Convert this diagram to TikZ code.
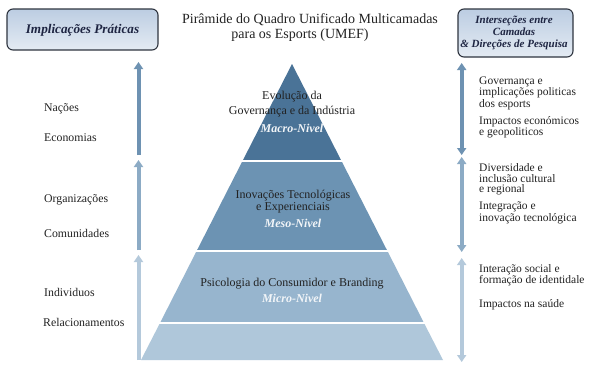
\documentclass[tikz,border=0pt]{standalone}
\usepackage{fontspec}
\setmainfont{Liberation Serif}
\usetikzlibrary{arrows.meta}
\definecolor{lvA}{HTML}{4A7397}
\definecolor{lvB}{HTML}{6C93B3}
\definecolor{lvC}{HTML}{97B5CE}
\definecolor{lvD}{HTML}{AFC7DA}
\definecolor{arA}{HTML}{6E92B2}
\definecolor{arB}{HTML}{8CABC5}
\definecolor{arC}{HTML}{B4C9DB}
\definecolor{hdtop}{HTML}{BCCDE2}
\definecolor{hdbot}{HTML}{E4EBF3}
\definecolor{hdline}{HTML}{2F3540}
\definecolor{hdtext}{HTML}{1E2542}
\definecolor{bodytext}{HTML}{222222}
\definecolor{lvtext}{HTML}{F2F5F8}
\tikzset{
  hdbox/.style={draw=hdline, line width=1.1pt, rounded corners=6pt, top color=hdtop, bottom color=hdbot},
  lbl/.style={anchor=base west, inner sep=0pt, text=bodytext, font=\fontsize{11.8}{13}\selectfont},
  rlbl/.style={anchor=base west, inner sep=0pt, text=bodytext, font=\fontsize{11.5}{12}\selectfont},
  pyrtxt/.style={anchor=base, inner sep=0pt, text=bodytext, font=\fontsize{12}{14}\selectfont},
  lvname/.style={anchor=base, inner sep=0pt, text=lvtext, font=\fontsize{12}{14}\selectfont\bfseries\itshape},
  uparrow/.style={line width=4pt, -{Triangle[width=9pt,length=7pt]}},
  bidarrow/.style={line width=4pt, {Triangle[width=9pt,length=7pt]}-{Triangle[width=9pt,length=7pt]}},
  sep/.style={draw=white, line width=2pt}
}
\begin{document}
\begin{tikzpicture}[x=1pt,y=-1pt]
\useasboundingbox (0,0) rectangle (589,375);
\fill[white] (0,0) rectangle (589,375);

% headers
\draw[hdbox] (7,9) rectangle (158,50);
\node[text=hdtext, font=\fontsize{13.2}{15}\selectfont\bfseries\itshape] (hl) at (82.5,30) {Implicações Práticas};
\draw[hdbox] (458,9) rectangle (573,57);
\node[text=hdtext, align=center, font=\fontsize{11}{12.2}\selectfont\bfseries\itshape] (hr) at (514,33) {Interseções entre\\Camadas\\\& Direções de Pesquisa};

% title
\node[anchor=base, inner sep=0pt, text=bodytext, font=\fontsize{14}{16}\selectfont] (t1) at (310,23) {Pirâmide do Quadro Unificado Multicamadas};
\node[anchor=base, inner sep=0pt, text=bodytext, font=\fontsize{14}{16}\selectfont] (t2) at (300,38) {para os Esports (UMEF)};

% pyramid
\coordinate (apex) at (292,64);
\coordinate (l1) at (242.5,161); \coordinate (r1) at (341.5,161);
\coordinate (l2) at (196.6,251); \coordinate (r2) at (387.4,251);
\coordinate (l3) at (160,323);   \coordinate (r3) at (424,323);
\coordinate (l4) at (141,360);   \coordinate (r4) at (443,360);
\fill[lvA] (apex) -- (r1) -- (l1) -- cycle;
\fill[lvB] (l1) -- (r1) -- (r2) -- (l2) -- cycle;
\fill[lvC] (l2) -- (r2) -- (r3) -- (l3) -- cycle;
\fill[lvD] (l3) -- (r3) -- (r4) -- (l4) -- cycle;
\draw[sep] ([xshift=-3pt]l1) -- ([xshift=3pt]r1);
\draw[sep] ([xshift=-3pt]l2) -- ([xshift=3pt]r2);
\draw[sep] ([xshift=-3pt]l3) -- ([xshift=3pt]r3);

\node[pyrtxt] (p1a) at (292,99) {Evolução da};
\node[pyrtxt] (p1b) at (292,114) {Governança e da Indústria};
\node[lvname] (p1c) at (292,132) {Macro-Nivel};
\node[pyrtxt] (p2a) at (293,198) {Inovações Tecnológicas};
\node[pyrtxt] (p2b) at (293,210) {e Experienciais};
\node[lvname] (p2c) at (293,227) {Meso-Nivel};
\node[pyrtxt] (p3a) at (292,286) {Psicologia do Consumidor e Branding};
\node[lvname] (p3b) at (292,302) {Micro-Nivel};

% left arrows
\coordinate (la1s) at (138.5,155); \coordinate (la1e) at (138.5,62);
\coordinate (la2s) at (138.5,250); \coordinate (la2e) at (138.5,160);
\coordinate (la3s) at (138.5,360); \coordinate (la3e) at (138.5,255);
\draw[uparrow, arA] (la1s) -- (la1e);
\draw[uparrow, arB] (la2s) -- (la2e);
\draw[uparrow, arC] (la3s) -- (la3e);

% right arrows
\coordinate (ra1s) at (461.7,63);  \coordinate (ra1e) at (461.7,155);
\coordinate (ra2s) at (461.7,157); \coordinate (ra2e) at (461.7,252);
\coordinate (ra3s) at (461.7,258); \coordinate (ra3e) at (461.7,362);
\draw[bidarrow, arA] (ra1s) -- (ra1e);
\draw[bidarrow, arB] (ra2s) -- (ra2e);
\draw[bidarrow, arC] (ra3s) -- (ra3e);

% left labels
\node[lbl] (n1) at (44,111) {Nações};
\node[lbl] (n2) at (44,141) {Economias};
\node[lbl] (n3) at (44,202) {Organizações};
\node[lbl] (n4) at (44,237) {Comunidades};
\node[lbl] (n5) at (44,296) {Individuos};
\node[lbl] (n6) at (43,326) {Relacionamentos};

% right labels
\node[rlbl] (g1a) at (479,84) {Governança e};
\node[rlbl] (g1b) at (479,95.5) {implicações politicas};
\node[rlbl] (g1c) at (479,107) {dos esports};
\node[rlbl] (g2a) at (479,124) {Impactos económicos};
\node[rlbl] (g2b) at (479,135.5) {e geopoliticos};
\node[rlbl] (g3a) at (479,171) {Diversidade e};
\node[rlbl] (g3b) at (479,182) {inclusão cultural};
\node[rlbl] (g3c) at (479,192) {e regional};
\node[rlbl] (g4a) at (479,209) {Integração e};
\node[rlbl] (g4b) at (479,221) {inovação tecnológica};
\node[rlbl] (g5a) at (479,272) {Interação social e};
\node[rlbl] (g5b) at (479,283) {formação de identidale};
\node[rlbl] (g6a) at (479,307) {Impactos na saúde};
\end{tikzpicture}
\end{document}
